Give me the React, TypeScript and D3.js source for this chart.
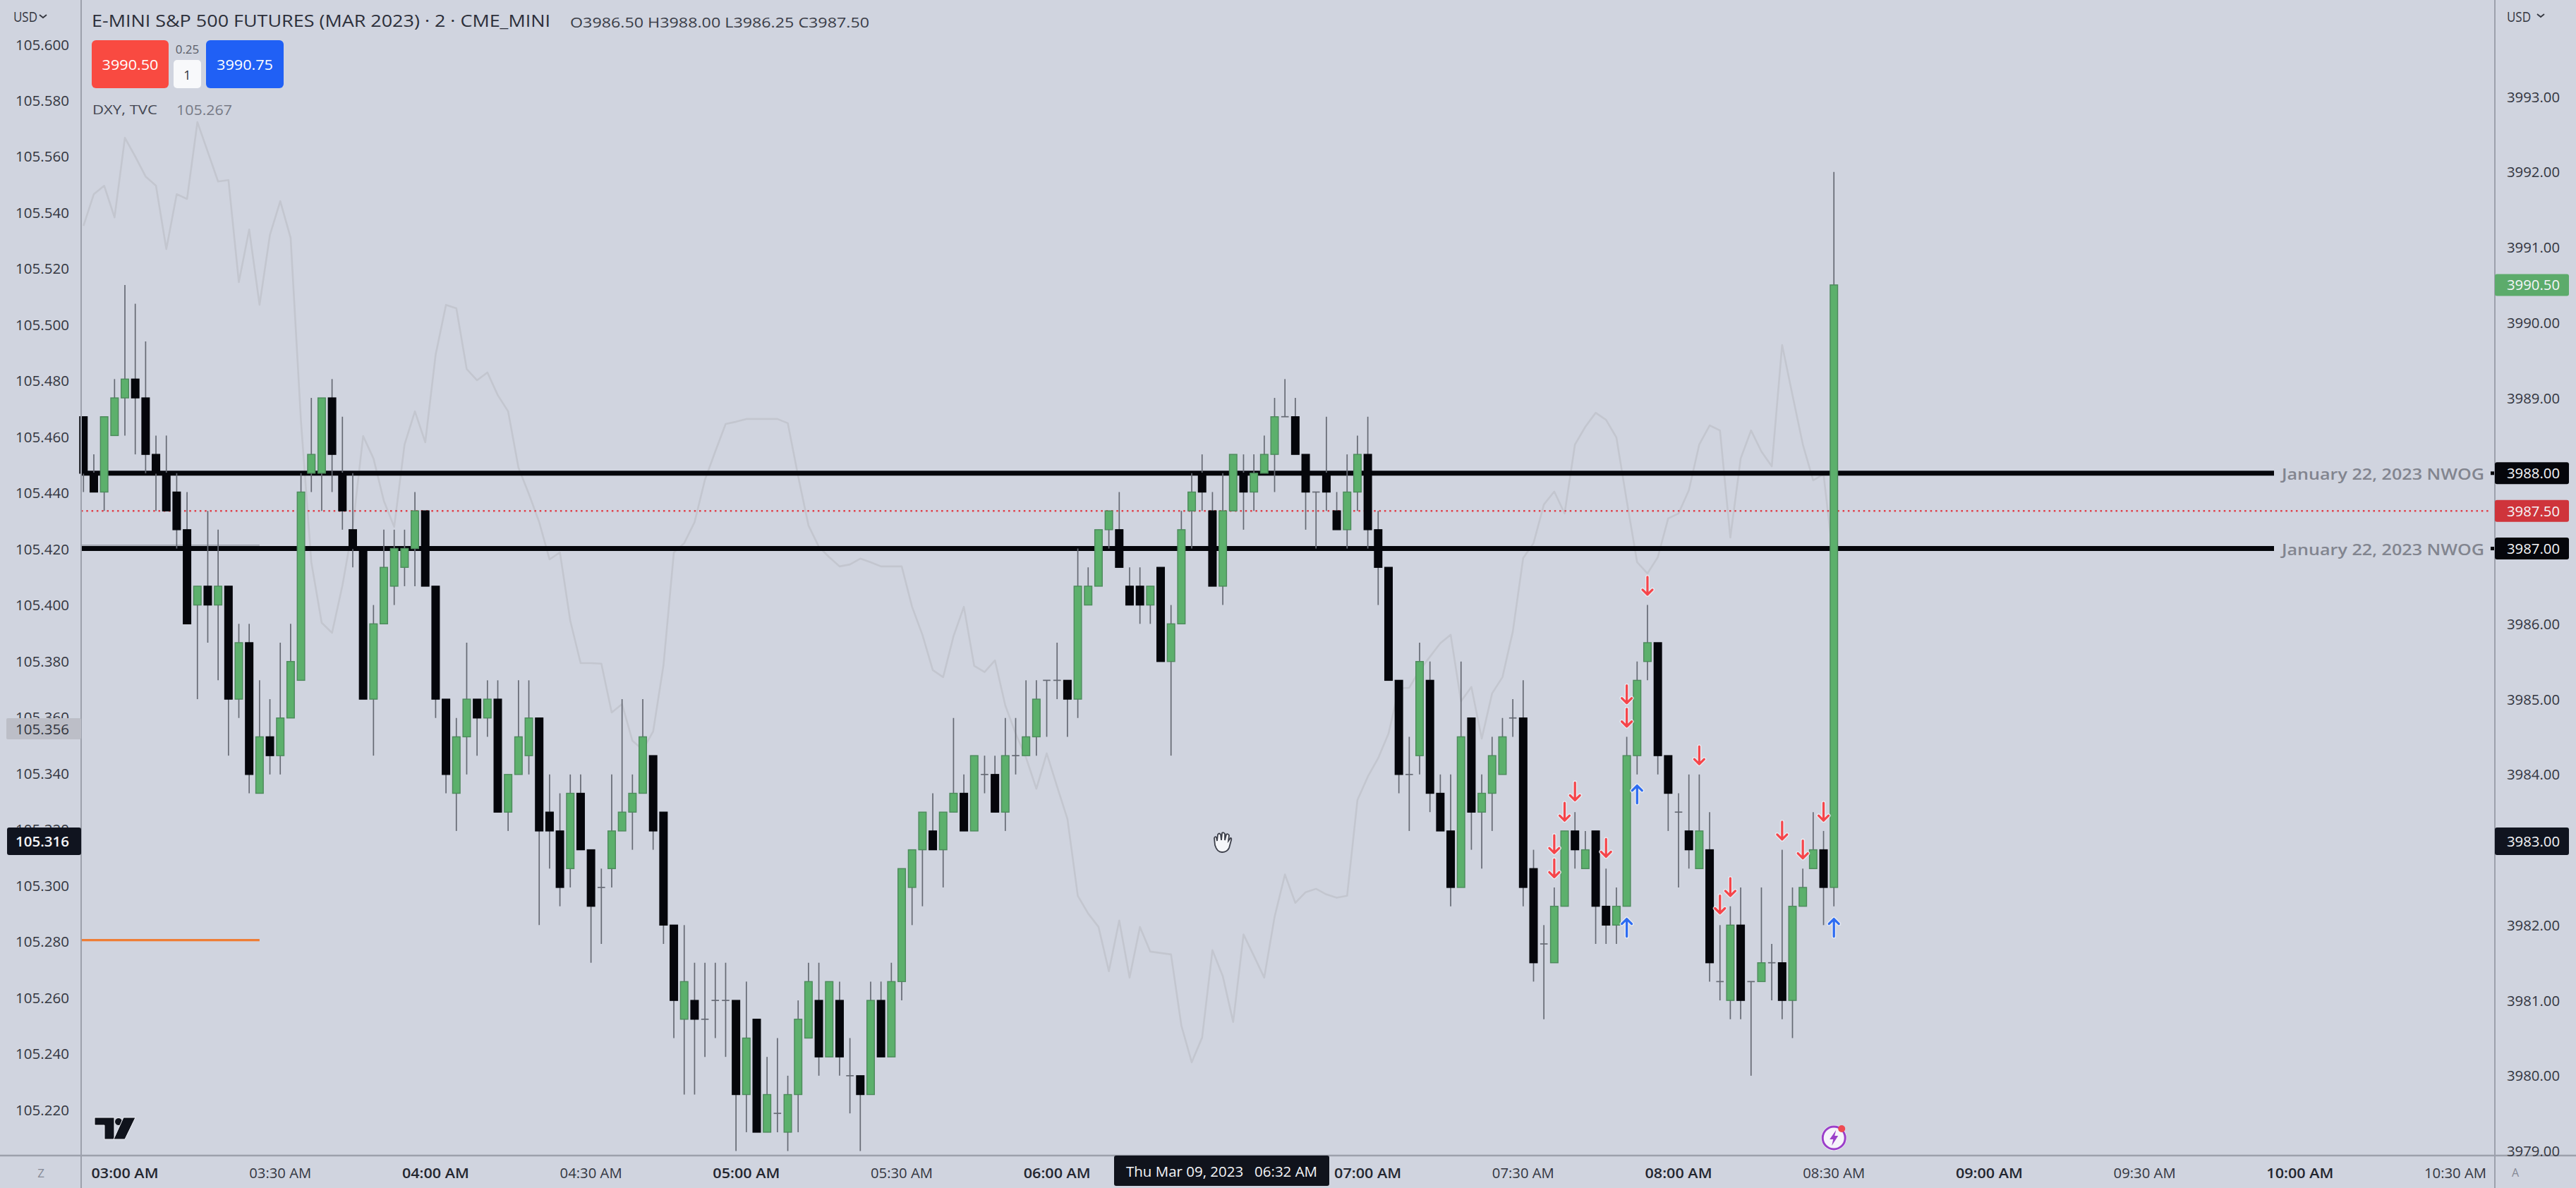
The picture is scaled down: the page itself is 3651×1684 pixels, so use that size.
import React from "react";
import * as d3 from "d3";

const opens = [3988.75,3988,3987.75,3988.5,3989,3989.25,3989,3988.25,3988,3987.75,3987.25,3986.25,3986.5,3986.25,3986.5,3985,3985.75,3983.75,3984.5,3984.25,3984.75,3985.25,3988,3988,3989,3988,3987.25,3987,3985,3986,3986.5,3986.75,3987,3987.5,3986.5,3985,3983.75,3984.5,3985,3984.75,3985,3983.5,3984,3984.25,3984.75,3983.5,3983.25,3982.75,3983.75,3983,3982.5,3982.75,3983.25,3983.5,3983.75,3984.25,3983.5,3982,3980.75,3981,3980.75,3981,3981,3981,3979.75,3980.75,3979.25,3979.5,3979.25,3979.75,3980.5,3981,3980.25,3981,3980,3980,3979.75,3981,3980.25,3981.25,3982.5,3983,3983.25,3983,3983.5,3983.75,3983.25,3984,3984,3983.5,3984.25,3984.25,3984.5,3985.25,3985.25,3985.25,3985,3986.25,3986.5,3987.25,3987.25,3986.5,3986.5,3986.25,3986.75,3985.5,3986,3987.5,3988,3987.5,3986.5,3987.5,3988,3987.75,3988,3988.25,3988.75,3988.75,3988.25,3987.75,3988,3987.5,3987.25,3987.75,3988.25,3987.25,3986.75,3985.25,3984,3984.25,3985.25,3983.75,3983.25,3982.5,3984.75,3983.5,3983.75,3984,3984.75,3984.75,3982.75,3981.75,3981.5,3982.25,3983.25,3982.75,3983.25,3982.25,3982,3982.25,3984.25,3985.5,3985.75,3984.25,3983.5,3983.25,3982.75,3983,3981.25,3981,3982,3981.25,3981.25,3981.5,3981.5,3981,3982.25,3982.75,3983,3982.5];
const highs = [3988.75,3988.25,3988.75,3989.25,3990.5,3990.25,3989.75,3988.5,3988.5,3988,3987.75,3986.5,3987.5,3987.25,3986.5,3986,3986,3985.25,3985,3985.75,3986,3988,3989,3989,3989.25,3988.75,3988,3987,3986.25,3987.25,3987.25,3987.25,3987.75,3987.5,3986.5,3985,3984.75,3985.75,3985,3985.25,3985.25,3984,3985.25,3985.25,3984.75,3984,3983.75,3984,3984,3983,3982.75,3984,3985,3984,3985,3984.25,3983.5,3982,3982,3981.5,3981.5,3981.5,3981.5,3981,3981.25,3980.75,3980.25,3980.5,3980,3981,3981.5,3981.5,3981.25,3981.25,3980.5,3980,3981.25,3981.25,3981.5,3982.75,3983,3983.5,3983.75,3983.5,3984.75,3984,3984.25,3984.25,3984.25,3984.75,3984.75,3985.25,3985.25,3985.25,3985.75,3985.25,3987,3986.75,3987.25,3987.5,3987.75,3986.75,3986.75,3986.5,3986.75,3986.25,3987.5,3988,3988.25,3987.75,3988,3988.25,3988.25,3988.25,3988.5,3989,3989.25,3989,3988.25,3987.75,3988.75,3987.75,3988.25,3988.5,3988.75,3987.5,3986.75,3985.25,3984.5,3985.75,3985.5,3984,3984,3985.5,3984.75,3984,3984.5,3984.75,3985,3985.25,3983,3982,3982.5,3983.25,3983.5,3983.25,3983.25,3982.75,3982.5,3984.5,3985.5,3986.25,3985.75,3984.25,3983.75,3984,3984,3983.5,3982,3982.25,3982.5,3981.25,3982.5,3981.75,3983,3982.5,3982.75,3983.5,3983.25,3992];
const lows = [3987.75,3987.75,3987.5,3988.5,3988.5,3988.25,3988,3987.5,3987.5,3987,3986,3985,3985.75,3985.25,3984.25,3984.75,3983.75,3983.75,3984,3984,3984.75,3985.25,3987.75,3987.5,3987.75,3987.25,3986.75,3985,3984.25,3986,3986.25,3986.5,3986.5,3986.5,3984.75,3983.75,3983.25,3984,3984.25,3984.5,3983.5,3983.25,3984,3984,3982,3982.75,3982.25,3982.5,3983,3981.5,3981.75,3982.5,3983.25,3983,3983.75,3983,3981.75,3980.5,3979.75,3979.75,3980.25,3980.5,3980.25,3979,3979.25,3979.25,3979.25,3979.25,3979,3979.25,3980.5,3980,3980.25,3980,3979.5,3979,3979.75,3980.25,3980.25,3981,3982,3982.25,3983,3982.5,3983.5,3983.25,3983.25,3983.75,3983.5,3983.25,3984,3984.25,3984.25,3984.5,3985,3984.5,3984.75,3986.25,3986.5,3987,3986.75,3986.25,3986,3986,3985.5,3984.25,3986,3987,3987.5,3986.5,3986.25,3987.5,3987.25,3987.5,3988,3987.75,3988.75,3988.25,3987.25,3987,3987.5,3987.25,3987,3987.5,3987,3986.25,3985.25,3983.75,3983.25,3984,3983.5,3983.25,3982.25,3982.5,3983,3982.75,3983.25,3984,3984.5,3982.25,3981.25,3980.75,3981.5,3982.25,3982.75,3982.75,3981.75,3981.75,3981.75,3982.25,3984,3985.25,3984,3983.25,3982.5,3982.75,3982.75,3981.25,3981,3980.75,3980.75,3980,3981.25,3981,3980.75,3980.5,3982.25,3982.75,3982,3982.25];
const closes = [3988,3987.75,3988.75,3989,3989.25,3989,3988.25,3988,3987.5,3987.25,3986,3986.5,3986.25,3986.5,3985,3985.75,3984,3984.5,3984.25,3984.75,3985.5,3987.75,3988.25,3989,3988.25,3987.5,3987,3985,3986,3986.75,3987,3987,3987.5,3986.5,3985,3984,3984.5,3985,3984.75,3985,3983.5,3984,3984.5,3984.75,3983.25,3983.25,3982.5,3983.75,3983,3982.25,3982.5,3983.25,3983.5,3983.75,3984.5,3983.25,3982,3981,3981.25,3980.75,3980.75,3981,3981,3979.75,3980.5,3979.25,3979.75,3979.5,3979.75,3980.75,3981.25,3980.25,3981.25,3980.25,3980,3979.75,3981,3980.25,3981.25,3982.75,3983,3983.5,3983,3983.5,3983.75,3983.25,3984.25,3984,3983.5,3984.25,3984.25,3984.5,3985,3985.25,3985.25,3985,3986.5,3986.5,3987.25,3987.5,3986.75,3986.25,3986.25,3986.5,3985.5,3986,3987.25,3987.75,3987.75,3986.5,3987.5,3988.25,3987.75,3988,3988.25,3988.75,3988.75,3988.25,3987.75,3987.75,3987.75,3987.25,3987.75,3988.25,3987.25,3986.75,3985.25,3984,3984,3985.5,3983.75,3983.25,3982.5,3984.5,3983.5,3983.75,3984.25,3984.5,3984.75,3982.5,3981.5,3981.75,3982.25,3983.25,3983,3983,3982.25,3982,3982.25,3984.25,3985.25,3985.75,3984.25,3983.75,3983.5,3983,3983.25,3981.5,3981.25,3982,3981,3981.25,3981.5,3981.5,3981,3982.25,3982.5,3983,3982.5,3990.5];
const dxy = [105.5353,105.5466,105.5496,105.5383,105.5667,105.56,105.5529,105.5496,105.527,105.5466,105.5449,105.5723,105.5617,105.5511,105.5516,105.5152,105.534,105.5071,105.532,105.5441,105.531,105.4656,105.4153,105.3937,105.3901,105.407,105.4279,105.4603,105.4523,105.4372,105.4279,105.4573,105.4691,105.4581,105.4893,105.5071,105.5059,105.4842,105.4802,105.483,105.4749,105.4691,105.449,105.4397,105.4296,105.4163,105.4188,105.3944,105.3793,105.3793,105.3791,105.3617,105.3647,105.3516,105.3484,105.3549,105.3786,105.4188,105.4221,105.4296,105.4447,105.4548,105.4646,105.4654,105.4664,105.4664,105.4664,105.4664,105.4649,105.446,105.4284,105.4208,105.4171,105.4138,105.4145,105.4166,105.4153,105.4138,105.4138,105.4138,105.3994,105.3894,105.3768,105.3743,105.3889,105.3994,105.3783,105.3761,105.3803,105.3642,105.3542,105.3456,105.3345,105.3471,105.3353,105.3237,105.2963,105.29,105.2852,105.2694,105.2875,105.2671,105.2852,105.2764,105.2759,105.2754,105.25,105.2369,105.2457,105.2769,105.2676,105.2513,105.2825,105.2749,105.2671,105.2888,105.3039,105.2938,105.2976,105.2988,105.2968,105.2956,105.2963,105.3305,105.3388,105.3454,105.3542,105.3703,105.3705,105.3768,105.3816,105.3864,105.3894,105.3657,105.3708,105.3524,105.3685,105.3743,105.3906,105.4168,105.4221,105.4359,105.4405,105.4327,105.4573,105.4636,105.4686,105.4661,105.4598,105.4372,105.4153,105.4113,105.4171,105.4309,105.4327,105.441,105.4573,105.4641,105.4623,105.4241,105.4523,105.4623,105.4548,105.4495,105.4928,105.4749,105.4573,105.4445,105.4467,105.4145];

const rightTicks = [3993,3992,3991,3990,3989,3986,3985,3984,3982,3981,3980,3979];
const leftTicks = [105.6,105.58,105.56,105.54,105.52,105.5,105.48,105.46,105.44,105.42,105.4,105.38,105.36,105.34,105.32,105.3,105.28,105.26,105.24,105.22];
const timeLabels = ["03:00 AM","03:30 AM","04:00 AM","04:30 AM","05:00 AM","05:30 AM","06:00 AM","06:30 AM","07:00 AM","07:30 AM","08:00 AM","08:30 AM","09:00 AM","09:30 AM","10:00 AM","10:30 AM"];
const nwogLevels = [3988, 3987];
const lastPrice = 3987.5;
const downArrowBars = [151,149,149,144,143,142,142,147,156,159,158,164,166,168];
const downArrowPrices = [3986.5,3985.06,3984.75,3983.77,3983.5,3983.07,3982.75,3983.02,3984.25,3982.5,3982.27,3983.25,3983,3983.5];
const upArrowBars = [150,149,169];
const upArrowPrices = [3983.74,3981.97,3981.97];

const FONT = "'Open Sans', sans-serif";
const BG = "#d0d4df";
const INK = "#33363f";
const GREEN = "#5cb06c";
const GREEN_EDGE = "#4d8a5c";
const BLACK = "#05060b";
const WICK = "#666a74";
const AXIS = "#9da1ac";

const x = d3.scaleLinear().domain([0, 169]).range([118.3, 118.3 + 14.68 * 169]);
const yR = d3.scaleLinear().domain([3979, 3993]).range([1631.6, 137]);
const yL = d3.scaleLinear().domain([105.22, 105.6]).range([1573, 63]);

const dxyPath = d3.line<number>().x((_, i) => x(i)).y((d) => yL(d))(dxy) as string;

const DOWN_ARROW = "M0,-13 L0,12 M-7,5 L0,12 L7,5";
const UP_ARROW = "M0,13 L0,-12 M-7,-5 L0,-12 L7,-5";

function Arrow({ bar, price, d, color }: { bar: number; price: number; d: string; color: string }) {
  const t = `translate(${x(bar)},${yR(price)})`;
  return (
    <g transform={t} fill="none" strokeLinecap="round" strokeLinejoin="round">
      <path d={d} stroke="#eef0f6" strokeWidth={6} opacity={0.8} />
      <path d={d} stroke={color} strokeWidth={3.2} />
    </g>
  );
}

function T(p: any) {
  const { children, ...r } = p;
  return (
    <text fontFamily={FONT} fontSize={20} fill={INK} dominantBaseline="central" {...r}>
      {children}
    </text>
  );
}

function Box({ y, text, fill }: { y: number; text: string; fill: string }) {
  return (
    <g>
      <rect x={3536} y={y - 15.5} width={105} height={31} rx={3} fill={fill} />
      <T x={3553} y={y} fill="#f4f5f8" fontWeight={500} textLength={75} lengthAdjust="spacingAndGlyphs">{text}</T>
    </g>
  );
}

export default function App() {
  const barW = 10.6;
  return (
    <svg width={3651} height={1684} viewBox="0 0 3651 1684" style={{ position: "fixed", left: 0, top: 0, display: "block" }}>
      <rect width={3651} height={1684} fill={BG} />

      {/* comparison series */}
      <path d={dxyPath} fill="none" stroke="#c3c6cf" strokeWidth={2.6} strokeLinejoin="round" />

      {/* drawn level lines */}
      <line x1={115} x2={x(17)} y1={yL(105.4214)} y2={yL(105.4214)} stroke="#9a9da8" strokeWidth={1.5} />
      <line x1={115} x2={x(17)} y1={yL(105.2805)} y2={yL(105.2805)} stroke="#ef7d35" strokeWidth={3.2} />
      <line x1={115} x2={3530} y1={yR(lastPrice)} y2={yR(lastPrice)} stroke="#e0404a" strokeWidth={2.5} strokeDasharray="2.5 4.8" />
      {nwogLevels.map((p) => (
        <g key={p}>
          <line x1={115} x2={3223} y1={yR(p)} y2={yR(p)} stroke={BLACK} strokeWidth={7} />
          <line x1={3530} x2={3536} y1={yR(p)} y2={yR(p)} stroke={BLACK} strokeWidth={5} />
          <T x={3234} y={yR(p)} fontSize={22} fontWeight={600} fill="#82858f" textLength={287} lengthAdjust="spacingAndGlyphs">January 22, 2023 NWOG</T>
        </g>
      ))}

      {/* candles */}
      {opens.map((o, i) => {
        const c = closes[i];
        const up = c > o;
        const doji = c === o;
        const top = yR(Math.max(o, c));
        const bot = yR(Math.min(o, c));
        return (
          <g key={i}>
            <line x1={x(i)} x2={x(i)} y1={yR(highs[i])} y2={yR(lows[i])} stroke={WICK} strokeWidth={1.7} />
            {doji ? (
              <line x1={x(i) - barW / 2} x2={x(i) + barW / 2} y1={top} y2={top} stroke={WICK} strokeWidth={1.7} />
            ) : (
              <rect
                x={x(i) - barW / 2}
                y={top}
                width={barW}
                height={bot - top}
                fill={up ? GREEN : BLACK}
                stroke={up ? GREEN_EDGE : BLACK}
                strokeWidth={1.4}
              />
            )}
          </g>
        );
      })}

      {downArrowBars.map((b, i) => (
        <Arrow key={"d" + i} bar={b} price={downArrowPrices[i]} d={DOWN_ARROW} color="#f6454a" />
      ))}
      {upArrowBars.map((b, i) => (
        <Arrow key={"u" + i} bar={b} price={upArrowPrices[i]} d={UP_ARROW} color="#2c6bf2" />
      ))}

      {/* axes frame */}
      <line x1={115} x2={115} y1={0} y2={1684} stroke={AXIS} strokeWidth={2} />
      <line x1={3536} x2={3536} y1={0} y2={1684} stroke={AXIS} strokeWidth={2} />
      <line x1={0} x2={3651} y1={1638} y2={1638} stroke={AXIS} strokeWidth={2.5} />

      {/* left axis */}
      <T x={19} y={23} fontSize={20} textLength={34} lengthAdjust="spacingAndGlyphs">USD</T>
      <path d="M56,21 L61,25 L66,21" fill="none" stroke={INK} strokeWidth={1.8} />
      {leftTicks.map((v) => (
        <T key={v} x={22} y={yL(v)} textLength={76} lengthAdjust="spacingAndGlyphs">{v.toFixed(3)}</T>
      ))}
      <rect x={9} y={1018} width={106} height={30} rx={2} fill="#bcbec7" />
      <T x={22} y={1033} textLength={76} lengthAdjust="spacingAndGlyphs">105.356</T>
      <rect x={10} y={1173} width={105} height={39} rx={3} fill="#10141f" />
      <T x={22} y={1192} fill="#f4f5f8" fontWeight={600} textLength={76} lengthAdjust="spacingAndGlyphs">105.316</T>

      {/* right axis */}
      <T x={3553} y={23} fontSize={20} textLength={34} lengthAdjust="spacingAndGlyphs">USD</T>
      <path d="M3596,20 L3601,24 L3606,20" fill="none" stroke={INK} strokeWidth={1.8} />
      {rightTicks.map((v) => (
        <T key={v} x={3553} y={yR(v)} textLength={75} lengthAdjust="spacingAndGlyphs">{v.toFixed(2)}</T>
      ))}
      <Box y={yR(3990.5)} text="3990.50" fill="#5cab6b" />
      <Box y={yR(3988)} text="3988.00" fill={BLACK} />
      <Box y={yR(3987.5)} text="3987.50" fill="#cf343b" />
      <Box y={yR(3987)} text="3987.00" fill={BLACK} />
      <rect x={3536} y={1173} width={105} height={39} rx={3} fill="#10141f" />
      <T x={3553} y={1192} fill="#f4f5f8" fontWeight={500} textLength={75} lengthAdjust="spacingAndGlyphs">3983.00</T>

      {/* time axis */}
      {timeLabels.map((t, k) => {
        const hour = t.includes(":00");
        return (
          <T
            key={t}
            x={x(4 + 15 * k)}
            y={1662}
            textAnchor="middle"
            fontWeight={hour ? 600 : 400}
            fontSize={19.5}
            fill={hour ? "#23262f" : INK}
            textLength={hour ? 95 : 88}
            lengthAdjust="spacingAndGlyphs"
          >
            {t}
          </T>
        );
      })}
      <rect x={1579} y={1638} width={305} height={43} rx={3} fill="#10131c" />
      <T x={1596} y={1660} fill="#f4f5f8" textLength={271} lengthAdjust="spacingAndGlyphs" xmlSpace="preserve">Thu Mar 09, 2023   06:32 AM</T>
      <T x={58} y={1662} fontSize={17} fill="#868a96" textAnchor="middle">Z</T>
      <T x={3565} y={1662} fontSize={16} fill="#868a96" textAnchor="middle">A</T>

      {/* header */}
      <T x={130} y={28} fontSize={24} fill="#2c2f3a" textLength={650} lengthAdjust="spacingAndGlyphs">E-MINI S&amp;P 500 FUTURES (MAR 2023) · 2 · CME_MINI</T>
      <T x={808} y={31} fontSize={20} fill="#3a3d48" textLength={424} lengthAdjust="spacingAndGlyphs">O3986.50 H3988.00 L3986.25 C3987.50</T>
      <rect x={130} y={57} width={109} height={68} rx={6} fill="#f94a41" />
      <T x={184.5} y={91} fill="#fff" fontWeight={500} textAnchor="middle" textLength={80} lengthAdjust="spacingAndGlyphs">3990.50</T>
      <rect x={292} y={57} width={110} height={68} rx={6} fill="#2060f5" />
      <T x={347} y={91} fill="#fff" fontWeight={500} textAnchor="middle" textLength={80} lengthAdjust="spacingAndGlyphs">3990.75</T>
      <T x={265.5} y={69} fontSize={17} fill="#5a5d68" textAnchor="middle">0.25</T>
      <rect x={246} y={85} width={39} height={40} rx={5} fill="#f8f9fb" />
      <T x={265.5} y={106} fontSize={18} fill="#30333c" textAnchor="middle">1</T>
      <T x={131} y={155} fontSize={19} fill="#444752" textLength={92} lengthAdjust="spacingAndGlyphs">DXY, TVC</T>
      <T x={250} y={155} fontSize={20} fill="#777a86" textLength={79} lengthAdjust="spacingAndGlyphs">105.267</T>

      {/* TV logo */}
      <g transform="translate(134,1584)" fill="#10131c" stroke="#f2f3f8" strokeWidth={1}>
        <path d="M0,0 H28 V31 H14 V11 H0 Z" />
        <circle cx={34} cy={6} r={5.5} />
        <path d="M41,0 H58 L43,31 H27 Z" />
      </g>

      {/* mouse hand */}
      <g transform="translate(1732,1194)">
        <path d="M-10,4 L-11,-6 Q-10,-9 -8,-7 L-7,-2 L-6,-11 Q-4,-14 -2,-11 L-1,-3 L0,-13 Q2,-15 4,-12 L4,-3 L6,-11 Q8,-13 10,-10 L9,-2 L12,-6 Q14,-6 13,-3 L10,8 Q7,14 0,14 Q-7,14 -10,4 Z" fill="#f5f6f9" stroke="#3c3f4a" strokeWidth={1.8} />
      </g>

      {/* flash icon */}
      <g transform={`translate(${x(169)},1613)`}>
        <circle r={18} fill="#f6f4fa" />
        <circle r={16} fill="none" stroke="#9b3fc9" strokeWidth={3} />
        <path d="M3,-11 L-6,2 L-1,2 L-3,11 L6,-3 L1,-3 Z" fill="#9b3fc9" />
        <circle cx={11} cy={-13} r={5} fill="#ef4a52" />
      </g>
    </svg>
  );
}
